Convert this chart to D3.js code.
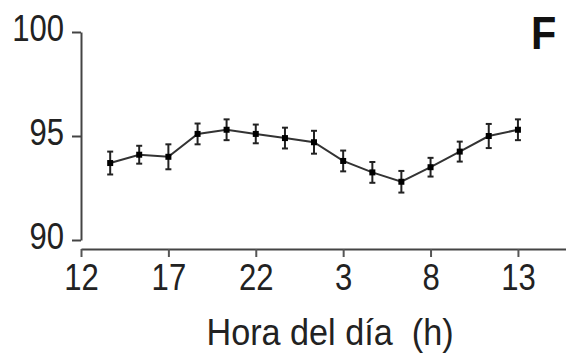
<!DOCTYPE html>
<html>
<head>
<meta charset="utf-8">
<script src="https://cdn.jsdelivr.net/npm/d3@7"></script>
<style>
  body { margin: 0; background: #fff; }
  svg { display: block; font-family: "Liberation Sans", Arial, sans-serif; }
</style>
</head>
<body>
<svg id="chart" width="566" height="354"></svg>
<script>
// hours elapsed since 12:00
var hours = [1.67, 3.33, 5, 6.67, 8.33, 10, 11.67, 13.33, 15, 16.67, 18.33, 20, 21.67, 23.33, 25];
var means = [93.7, 94.1, 94.0, 95.1, 95.3, 95.1, 94.9, 94.7, 93.8, 93.25, 92.8, 93.5, 94.25, 95.0, 95.3];
var errs = [0.55, 0.43, 0.6, 0.5, 0.5, 0.45, 0.5, 0.55, 0.5, 0.5, 0.52, 0.45, 0.48, 0.58, 0.5];
var xTicks = [0, 5, 10, 15, 20, 25];
var xTickLabels = ['12', '17', '22', '3', '8', '13'];
var xMinor = [1.67, 3.33, 6.67, 8.33, 11.67, 13.33, 16.67, 18.33, 21.67, 23.33, 26.67];
var yTicks = [90, 95, 100];
var yMinor = [91, 92, 93, 94, 96, 97, 98, 99];
var xTitle = 'Hora del día  (h)';
var panel = 'F';

(function() {
    'use strict';
    var svg = d3.select('#chart'),
    x = d3.scaleLinear().domain([0, 27.75]).range([81, 566]),
    y = d3.scaleLinear().domain([90, 100]).range([240, 32]),
    axisCol = '#444',
    sx = 0.84; // glyphs in the source are a bit narrow

    // y axis
    var gy = svg.append('g').attr('transform', 'translate(81,0)');
    gy.call(d3.axisLeft(y).tickValues(yMinor).tickSize(5).tickSizeOuter(0).tickFormat(''));
    gy.call(d3.axisLeft(y).tickValues(yTicks).tickSize(9).tickSizeOuter(0));
    gy.selectAll('.domain').attr('stroke', axisCol).attr('stroke-width', 2);
    gy.selectAll('line').attr('stroke', axisCol).attr('stroke-width', 2);
    gy.selectAll('text').attr('x', -17 / sx).attr('dy', 8).attr('transform', 'scale(' + sx + ',1)')
        .attr('font-size', 37).attr('fill', '#222')
        .attr('font-family', '"Liberation Sans", Arial, sans-serif');

    // x axis
    var gx = svg.append('g').attr('transform', 'translate(0,249)');
    gx.call(d3.axisBottom(x).tickValues(xMinor).tickSize(5).tickSizeOuter(0).tickFormat(''));
    gx.call(d3.axisBottom(x).tickValues(xTicks).tickSize(8).tickSizeOuter(0)
        .tickFormat(function(d, i) { return xTickLabels[i]; }));
    gx.selectAll('.domain').attr('stroke', axisCol).attr('stroke-width', 2);
    gx.selectAll('line').attr('stroke', '#555').attr('stroke-width', 2);
    gx.selectAll('text').attr('y', 41).attr('dy', 0).attr('transform', 'scale(' + sx + ',1)')
        .attr('font-size', 37).attr('fill', '#222')
        .attr('font-family', '"Liberation Sans", Arial, sans-serif');

    svg.append('text')
        .attr('transform', 'translate(330,345) scale(0.95,1)')
        .attr('text-anchor', 'middle')
        .attr('font-size', 36).attr('fill', '#222')
        .style('white-space', 'pre')
        .text(xTitle);

    svg.append('text')
        .attr('transform', 'translate(531,49) scale(0.9,1)')
        .attr('font-size', 46).attr('font-weight', 'bold').attr('fill', '#111')
        .text(panel);

    var pts = hours.map(function(h, i) {
        return {h: h, m: means[i], e: errs[i]};
    });

    // connecting line
    svg.append('path').datum(pts)
        .attr('fill', 'none').attr('stroke', '#333').attr('stroke-width', 2)
        .attr('d', d3.line().x(function(d) { return x(d.h); }).y(function(d) { return y(d.m); }));

    // error bars
    var eb = svg.selectAll('g.err').data(pts).enter().append('g').attr('class', 'err')
        .attr('stroke', '#222').attr('stroke-width', 2);
    eb.append('line')
        .attr('x1', function(d) { return x(d.h); }).attr('x2', function(d) { return x(d.h); })
        .attr('y1', function(d) { return y(d.m - d.e); }).attr('y2', function(d) { return y(d.m + d.e); });
    eb.append('line')
        .attr('x1', function(d) { return x(d.h) - 3; }).attr('x2', function(d) { return x(d.h) + 3; })
        .attr('y1', function(d) { return y(d.m + d.e); }).attr('y2', function(d) { return y(d.m + d.e); });
    eb.append('line')
        .attr('x1', function(d) { return x(d.h) - 3; }).attr('x2', function(d) { return x(d.h) + 3; })
        .attr('y1', function(d) { return y(d.m - d.e); }).attr('y2', function(d) { return y(d.m - d.e); });

    // markers
    svg.selectAll('rect.pt').data(pts).enter().append('rect').attr('class', 'pt')
        .attr('x', function(d) { return x(d.h) - 3; })
        .attr('y', function(d) { return y(d.m) - 3; })
        .attr('width', 6).attr('height', 6)
        .attr('fill', '#000');
}());
</script>
</body>
</html>
